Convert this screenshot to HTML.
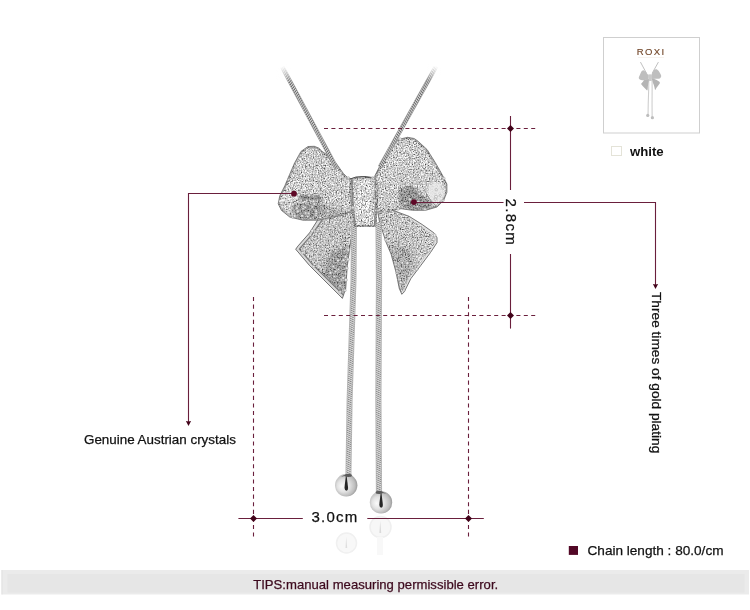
<!DOCTYPE html>
<html><head><meta charset="utf-8">
<style>
html,body{margin:0;padding:0;background:#fff;}
body{width:750px;height:610px;overflow:hidden;position:relative;font-family:"Liberation Sans",sans-serif;}
svg{position:absolute;left:0;top:0;will-change:transform;}
</style></head>
<body>
<svg width="750" height="610" viewBox="0 0 750 610">
<defs>
  <radialGradient id="ball" cx="0.45" cy="0.5" r="0.55" fx="0.3" fy="0.55">
    <stop offset="0" stop-color="#fafafa"/>
    <stop offset="0.5" stop-color="#e2e2e2"/>
    <stop offset="0.85" stop-color="#bdbdbd"/>
    <stop offset="1" stop-color="#9a9a9a"/>
  </radialGradient>
  <pattern id="chainPat" width="40" height="2.1" patternUnits="userSpaceOnUse" patternTransform="skewY(25)">
    <rect width="40" height="2.1" fill="#dcdcdc"/>
    <rect y="1.2" width="40" height="0.9" fill="#8a8a8a"/>
  </pattern>
  <pattern id="chainPatN" width="2.1" height="2" patternUnits="userSpaceOnUse" patternTransform="rotate(40)">
    <rect width="2.1" height="2" fill="#d8d8d8"/>
    <rect x="1.1" width="1" height="2" fill="#686868"/>
  </pattern>
  <pattern id="chainPatNR" width="2.1" height="2" patternUnits="userSpaceOnUse" patternTransform="rotate(-40)">
    <rect width="2.1" height="2" fill="#d8d8d8"/>
    <rect x="1.1" width="1" height="2" fill="#686868"/>
  </pattern>
  <filter id="sparkle" x="0" y="0" width="1" height="1" color-interpolation-filters="sRGB">
    <feTurbulence type="fractalNoise" baseFrequency="0.75" numOctaves="2" seed="4" result="n"/>
    <feColorMatrix in="n" type="matrix" values="1 0 0 0 0  1 0 0 0 0  1 0 0 0 0  0 0 0 0 1" result="g"/>
    <feComponentTransfer in="g" result="m">
      <feFuncR type="table" tableValues="0 0.05 0.15 0.38 0.6 0.76 0.9 0.98 1 1 1"/>
      <feFuncG type="table" tableValues="0 0.05 0.15 0.38 0.6 0.76 0.9 0.98 1 1 1"/>
      <feFuncB type="table" tableValues="0 0.05 0.15 0.38 0.6 0.76 0.9 0.98 1 1 1"/>
    </feComponentTransfer>
    <feComposite in="SourceGraphic" in2="m" operator="arithmetic" k1="0.95" k2="0.25" k3="0" k4="0" result="c"/>
    <feComposite in="c" in2="SourceAlpha" operator="in"/>
  </filter>
  <filter id="soft1" x="-0.2" y="-0.2" width="1.4" height="1.4"><feGaussianBlur stdDeviation="1.1"/></filter>
  <filter id="soft" x="-0.2" y="-0.2" width="1.4" height="1.4"><feGaussianBlur stdDeviation="2.5"/></filter>
  <clipPath id="cpLL"><path d="M352.5,179.3 L347.5,177.6 L343.4,173.5 L339.3,167.8 L335.2,162 L329,156 L322,151.4 L318.9,148.1 L314.3,146.3 L308,146.5 L301,151.4 L294.6,162.9 L289.7,174.3 L284.8,185.8 L279.8,195.7 L278.2,203.9 L281.5,210.4 L289.7,217 L302.8,220.2 L319.2,220.2 L332.3,217 L345,215 L352,210Z"/></clipPath>
  <clipPath id="cpRL"><path d="M374.8,175.9 L379,167.6 L385.5,156 L391.2,145.5 L396,141 L400.2,139 L407.6,137.3 L414.2,138.5 L418.3,141.4 L427.2,149.7 L435.4,162.8 L442,174.3 L446.9,184.1 L446.9,192.3 L443.6,200.5 L437,207 L425.6,210.3 L412.5,210.3 L401,208.7 L385,212 L376,212Z"/></clipPath>
  <clipPath id="cpLT"><path d="M357.1,214 L353.9,212 L334,213 L318,219.5 L309.6,232.8 L298.1,245.9 L295.7,249.2 L309.6,265.6 L326,282 L339.1,295 L342.4,298.4 L345.7,288.5 L347.3,265.6 L350.6,242.6 L353.9,227.9Z"/></clipPath>
  <clipPath id="cpRT"><path d="M376.4,204 L409.2,216.4 L422.3,224.6 L433.8,232.8 L437,237.7 L437,242.6 L430.5,252.5 L420.7,265.6 L410.8,278.7 L404.3,291.8 L401.8,294.3 L399.3,288.5 L396,272.1 L391.1,254.1 L386.2,242.6 L383,232.8 L379.7,223Z"/></clipPath>
  <clipPath id="cpKN"><path d="M349.5,182 L351,178.8 L355,177 L363.5,176.2 L372,177 L376.5,179 L378,183 L378.5,195 L377.5,210 L376,226.9 L354.5,226.9 L351.5,212 L349.5,197Z"/></clipPath>
  <linearGradient id="fadeL" x1="283" y1="66" x2="290" y2="82" gradientUnits="userSpaceOnUse">
    <stop offset="0" stop-color="#fff" stop-opacity="1"/>
    <stop offset="1" stop-color="#fff" stop-opacity="0"/>
  </linearGradient>
  <linearGradient id="fadeR" x1="436" y1="66" x2="430" y2="82" gradientUnits="userSpaceOnUse">
    <stop offset="0" stop-color="#fff" stop-opacity="1"/>
    <stop offset="1" stop-color="#fff" stop-opacity="0"/>
  </linearGradient>
</defs>
<g id="necklace">
  <g filter="url(#sparkle)">
    <path fill="#c8c8c8" d="M357.1,214 L353.9,212 L334,213 L318,219.5 L309.6,232.8 L298.1,245.9 L295.7,249.2 L309.6,265.6 L326,282 L339.1,295 L342.4,298.4 L345.7,288.5 L347.3,265.6 L350.6,242.6 L353.9,227.9Z"/>
    <path fill="#cccccc" d="M376.4,204 L409.2,216.4 L422.3,224.6 L433.8,232.8 L437,237.7 L437,242.6 L430.5,252.5 L420.7,265.6 L410.8,278.7 L404.3,291.8 L401.8,294.3 L399.3,288.5 L396,272.1 L391.1,254.1 L386.2,242.6 L383,232.8 L379.7,223Z"/>
    <g clip-path="url(#cpLT)" filter="url(#soft)">
      <path d="M330,252 L348,245 L346,292 L340,296 L322,278Z" fill="#a0a0a0"/>
      <path d="M296,249 L309,265 L326,282 L339,295 L337,299 L322,285 L305,268 L294,252Z" fill="#909090"/>
    </g>
    <g clip-path="url(#cpRT)" filter="url(#soft)">
      <path d="M388,244 L412,248 L414,268 L404,292 L398,288 L393,262Z" fill="#b0b0b0"/>
    </g>
  </g>
  <g fill="none">
    <g clip-path="url(#cpLT)"><path d="M320,218 L309.6,232.8 L298.1,245.9 L295.7,249.2 L309.6,265.6 L326,282 L339.1,295 L342.4,298.4" stroke="#7a7a7a" stroke-width="7"/><path d="M320,218 L309.6,232.8 L298.1,245.9 L295.7,249.2 L309.6,265.6 L326,282 L339.1,295 L342.4,298.4" stroke="#dadada" stroke-width="4.6"/></g>
    <g clip-path="url(#cpRT)"><path d="M409.2,216.4 L422.3,224.6 L433.8,232.8 L437,237.7 L437,242.6 L430.5,252.5 L420.7,265.6 L410.8,278.7 L404.3,291.8 L401.8,294.3" stroke="#e4e4e4" stroke-width="3.5"/></g>
    <path d="M357.1,214 L353.9,212 L334,213 L318,219.5 L309.6,232.8 L298.1,245.9 L295.7,249.2 L309.6,265.6 L326,282 L339.1,295 L342.4,298.4 L345.7,288.5 L347.3,265.6 L350.6,242.6 L353.9,227.9Z" stroke="#6a6a6a" stroke-width="0.9"/>
    <path d="M376.4,204 L409.2,216.4 L422.3,224.6 L433.8,232.8 L437,237.7 L437,242.6 L430.5,252.5 L420.7,265.6 L410.8,278.7 L404.3,291.8 L401.8,294.3 L399.3,288.5 L396,272.1 L391.1,254.1 L386.2,242.6 L383,232.8 L379.7,223Z" stroke="#6a6a6a" stroke-width="0.9"/>
  </g>

  <polyline points="354,222 353.5,280 349.6,400 348.4,476" fill="none" stroke="#b4b4b4" stroke-width="6"/>
  <polyline points="354,222 353.5,280 349.6,400 348.4,476" fill="none" stroke="url(#chainPat)" stroke-width="4.4"/>
  <polyline points="378.5,222 379,280 378.4,400 379,492.5" fill="none" stroke="#b4b4b4" stroke-width="6.2"/>
  <polyline points="378.5,222 379,280 378.4,400 379,492.5" fill="none" stroke="url(#chainPat)" stroke-width="4.6"/>
  <g filter="url(#sparkle)">
    <path fill="#d6d6d6" d="M352.5,179.3 L347.5,177.6 L343.4,173.5 L339.3,167.8 L335.2,162 L329,156 L322,151.4 L318.9,148.1 L314.3,146.3 L308,146.5 L301,151.4 L294.6,162.9 L289.7,174.3 L284.8,185.8 L279.8,195.7 L278.2,203.9 L281.5,210.4 L289.7,217 L302.8,220.2 L319.2,220.2 L332.3,217 L345,215 L352,210Z"/>
    <g clip-path="url(#cpLL)" filter="url(#soft1)">
      <path d="M292,204 L318,202 L328,206 L322,214 L316,219 L298,220 L292,212Z" fill="#9c9c9c"/>
      <path d="M299,194.5 L321,195 L322,200.5 L299,200Z" fill="#8c8c8c"/>
      <path d="M322,206 L345,210 L345,216 L330,218 L320,216Z" fill="#b4b4b4"/>
    </g>
    <path fill="#d6d6d6" d="M374.8,175.9 L379,167.6 L385.5,156 L391.2,145.5 L396,141 L400.2,139 L407.6,137.3 L414.2,138.5 L418.3,141.4 L427.2,149.7 L435.4,162.8 L442,174.3 L446.9,184.1 L446.9,192.3 L443.6,200.5 L437,207 L425.6,210.3 L412.5,210.3 L401,208.7 L385,212 L376,212Z"/>
    <g clip-path="url(#cpRL)" filter="url(#soft1)">
      <path d="M399,189 L411,185 L433,203 L429,211 L410,211 L399,205Z" fill="#9a9a9a"/>
    </g>
    <g clip-path="url(#cpLL)"><path d="M352.5,179.3 L347.5,177.6 L343.4,173.5 L339.3,167.8 L335.2,162 L329,156 L322,151.4 L318.9,148.1 L314.3,146.3 L308,146.5 L301,151.4 L294.6,162.9 L289.7,174.3 L284.8,185.8 L279.8,195.7 L278.2,203.9 L281.5,210.4 L289.7,217 L302.8,220.2 L319.2,220.2 L332.3,217 L345,215 L352,210Z" fill="none" stroke="#a8a8a8" stroke-width="3.5"/></g>
    <g clip-path="url(#cpRL)"><path d="M374.8,175.9 L379,167.6 L385.5,156 L391.2,145.5 L396,141 L400.2,139 L407.6,137.3 L414.2,138.5 L418.3,141.4 L427.2,149.7 L435.4,162.8 L442,174.3 L446.9,184.1 L446.9,192.3 L443.6,200.5 L437,207 L425.6,210.3 L412.5,210.3 L401,208.7 L385,212 L376,212Z" fill="none" stroke="#a8a8a8" stroke-width="3.5"/></g>
    <path fill="#dadada" d="M349.5,182 L351,178.8 L355,177 L363.5,176.2 L372,177 L376.5,179 L378,183 L378.5,195 L377.5,210 L376,226.9 L354.5,226.9 L351.5,212 L349.5,197Z"/>
    <g clip-path="url(#cpKN)"><path d="M349.5,182 L351,178.8 L355,177 L363.5,176.2 L372,177 L376.5,179 L378,183 L378.5,195 L377.5,210 L376,226.9 L354.5,226.9 L351.5,212 L349.5,197Z" fill="none" stroke="#a0a0a0" stroke-width="4"/><rect x="357" y="183" width="13.5" height="38" rx="6" fill="#e8e8e8"/></g>
  </g>
  <g fill="none">
    <g clip-path="url(#cpRL)"><path d="M425,188 Q433,181 441,183 Q446,188 444,197 Q440,204 434,205 Q429,198 425,188Z" fill="#e9e9e9" opacity="0.85" filter="url(#soft1)"/><path d="M424,189 Q430,201 436,206" stroke="#9a9a9a" stroke-width="1"/></g>
    <g clip-path="url(#cpLL)"><path d="M278,201.5 L290,199 L297.5,197" stroke="#f4f4f4" stroke-width="2.2"/><path d="M282,205 Q284,212 291,216.5" stroke="#bdbdbd" stroke-width="1.6"/></g>
    <path d="M352.5,179.3 L347.5,177.6 L343.4,173.5 L339.3,167.8 L335.2,162 L329,156 L322,151.4 L318.9,148.1 L314.3,146.3 L308,146.5 L301,151.4 L294.6,162.9 L289.7,174.3 L284.8,185.8 L279.8,195.7 L278.2,203.9 L281.5,210.4 L289.7,217 L302.8,220.2 L319.2,220.2 L332.3,217 L345,215 L352,210Z" stroke="#7a7a7a" stroke-width="0.9"/>
    <path d="M374.8,175.9 L379,167.6 L385.5,156 L391.2,145.5 L396,141 L400.2,139 L407.6,137.3 L414.2,138.5 L418.3,141.4 L427.2,149.7 L435.4,162.8 L442,174.3 L446.9,184.1 L446.9,192.3 L443.6,200.5 L437,207 L425.6,210.3 L412.5,210.3 L401,208.7 L385,212 L376,212Z" stroke="#7a7a7a" stroke-width="0.9"/>
    <path d="M350,179 L356,177 L364,176.5 L373,177.6 L377,180" stroke="#555" stroke-width="1"/>
    <path d="M351.5,181 Q353.5,204 355,226" stroke="#7a7a7a" stroke-width="0.9"/>
    <path d="M375.5,181 Q375.5,204 374.5,226" stroke="#7a7a7a" stroke-width="0.9"/>
  </g><g fill="#f4f4f4" stroke="#8a8a8a" stroke-width="0.55" opacity="0.8"><circle cx="331.7" cy="160.6" r="1.47"/><circle cx="368.2" cy="195.6" r="1.26"/><circle cx="282.4" cy="206.7" r="1.57"/><circle cx="297.3" cy="172.4" r="1.46"/><circle cx="375.3" cy="200.7" r="1.49"/><circle cx="423.7" cy="183.2" r="1.58"/><circle cx="300.8" cy="155.2" r="1.15"/><circle cx="329.1" cy="269.0" r="1.02"/><circle cx="385.9" cy="196.7" r="1.12"/><circle cx="393.0" cy="205.7" r="1.11"/><circle cx="330.0" cy="231.4" r="1.05"/><circle cx="353.9" cy="184.9" r="1.03"/><circle cx="412.6" cy="249.9" r="1.33"/><circle cx="318.0" cy="229.6" r="1.52"/><circle cx="401.5" cy="182.9" r="1.27"/><circle cx="347.9" cy="259.4" r="1.57"/><circle cx="302.1" cy="215.7" r="1.55"/><circle cx="407.5" cy="229.4" r="1.04"/><circle cx="426.6" cy="187.1" r="1.36"/><circle cx="395.6" cy="232.9" r="1.24"/><circle cx="375.7" cy="210.4" r="1.07"/><circle cx="417.4" cy="182.4" r="1.58"/><circle cx="342.4" cy="245.0" r="1.15"/><circle cx="304.9" cy="155.1" r="1.34"/><circle cx="298.2" cy="176.4" r="1.38"/><circle cx="343.2" cy="278.0" r="1.57"/><circle cx="289.9" cy="209.2" r="1.40"/><circle cx="323.9" cy="203.7" r="1.24"/><circle cx="337.7" cy="280.1" r="1.27"/><circle cx="306.3" cy="173.8" r="1.10"/><circle cx="316.1" cy="215.0" r="1.58"/><circle cx="377.3" cy="178.8" r="1.60"/><circle cx="339.5" cy="228.3" r="1.13"/><circle cx="392.3" cy="144.8" r="1.02"/><circle cx="343.5" cy="201.0" r="1.15"/><circle cx="311.9" cy="162.5" r="1.21"/><circle cx="293.5" cy="195.3" r="1.54"/><circle cx="319.4" cy="192.6" r="1.54"/><circle cx="334.9" cy="179.2" r="1.50"/><circle cx="418.6" cy="162.3" r="1.03"/><circle cx="424.5" cy="249.5" r="1.47"/><circle cx="320.9" cy="195.8" r="1.43"/><circle cx="332.7" cy="172.4" r="1.39"/><circle cx="416.8" cy="256.6" r="1.59"/><circle cx="320.6" cy="248.9" r="1.03"/><circle cx="440.3" cy="195.4" r="1.09"/><circle cx="313.9" cy="173.0" r="1.45"/><circle cx="309.8" cy="169.3" r="1.56"/><circle cx="333.2" cy="266.5" r="1.41"/><circle cx="443.1" cy="200.5" r="1.18"/><circle cx="345.0" cy="290.3" r="1.35"/><circle cx="400.7" cy="163.7" r="1.45"/><circle cx="297.9" cy="160.6" r="1.06"/><circle cx="336.3" cy="225.4" r="1.19"/><circle cx="418.1" cy="170.4" r="1.15"/><circle cx="319.3" cy="183.8" r="1.07"/><circle cx="317.4" cy="231.6" r="1.29"/><circle cx="320.6" cy="204.3" r="1.10"/><circle cx="336.9" cy="210.7" r="1.14"/><circle cx="362.3" cy="222.7" r="1.09"/><circle cx="305.6" cy="213.2" r="1.41"/><circle cx="400.7" cy="226.7" r="1.01"/><circle cx="332.1" cy="220.5" r="1.43"/><circle cx="318.7" cy="181.1" r="1.12"/><circle cx="408.8" cy="218.8" r="1.02"/><circle cx="438.1" cy="178.3" r="1.56"/><circle cx="420.5" cy="158.4" r="1.13"/><circle cx="296.9" cy="208.1" r="1.56"/><circle cx="302.6" cy="252.7" r="1.52"/><circle cx="389.6" cy="159.3" r="1.53"/><circle cx="344.5" cy="215.4" r="1.08"/><circle cx="303.8" cy="206.3" r="1.27"/><circle cx="364.7" cy="191.3" r="1.06"/><circle cx="309.7" cy="187.9" r="1.56"/><circle cx="400.2" cy="139.2" r="1.51"/><circle cx="371.3" cy="207.8" r="1.38"/><circle cx="294.0" cy="179.3" r="1.27"/><circle cx="322.5" cy="157.1" r="1.20"/><circle cx="416.9" cy="178.2" r="1.49"/><circle cx="394.4" cy="205.3" r="1.29"/><circle cx="354.0" cy="191.3" r="1.38"/><circle cx="322.1" cy="157.1" r="1.09"/><circle cx="329.7" cy="185.7" r="1.13"/><circle cx="406.6" cy="183.3" r="1.03"/><circle cx="402.1" cy="225.8" r="1.43"/><circle cx="308.6" cy="213.4" r="1.33"/><circle cx="416.9" cy="206.4" r="1.09"/><circle cx="343.6" cy="218.6" r="1.52"/><circle cx="334.9" cy="271.7" r="1.16"/><circle cx="397.6" cy="239.7" r="1.25"/><circle cx="345.6" cy="192.7" r="1.09"/><circle cx="320.0" cy="162.6" r="1.16"/><circle cx="425.7" cy="245.3" r="1.50"/><circle cx="324.5" cy="175.5" r="1.20"/><circle cx="326.4" cy="210.9" r="1.10"/><circle cx="303.1" cy="208.7" r="1.29"/><circle cx="329.2" cy="194.1" r="1.19"/><circle cx="357.6" cy="218.0" r="1.54"/><circle cx="310.6" cy="218.3" r="1.07"/><circle cx="291.4" cy="201.1" r="1.59"/><circle cx="328.3" cy="173.9" r="1.03"/><circle cx="405.1" cy="243.2" r="1.54"/><circle cx="399.2" cy="279.3" r="1.40"/><circle cx="343.0" cy="189.2" r="1.13"/><circle cx="400.6" cy="240.8" r="1.29"/><circle cx="429.4" cy="238.3" r="1.17"/><circle cx="402.2" cy="268.4" r="1.15"/><circle cx="414.4" cy="270.7" r="1.12"/><circle cx="393.5" cy="249.0" r="1.22"/><circle cx="298.9" cy="194.8" r="1.59"/><circle cx="413.2" cy="258.0" r="1.60"/><circle cx="362.5" cy="223.2" r="1.56"/><circle cx="402.7" cy="177.1" r="1.06"/><circle cx="288.8" cy="179.3" r="1.17"/><circle cx="401.4" cy="169.5" r="1.54"/><circle cx="361.0" cy="198.4" r="1.03"/><circle cx="407.9" cy="236.6" r="1.44"/><circle cx="301.4" cy="177.4" r="1.18"/><circle cx="403.8" cy="185.6" r="1.59"/><circle cx="391.6" cy="248.8" r="1.01"/><circle cx="392.2" cy="183.4" r="1.48"/><circle cx="364.8" cy="211.7" r="1.20"/><circle cx="429.7" cy="168.5" r="1.08"/><circle cx="353.3" cy="179.8" r="1.00"/><circle cx="312.2" cy="230.8" r="1.50"/><circle cx="428.5" cy="250.6" r="1.32"/><circle cx="353.5" cy="185.2" r="1.11"/><circle cx="300.2" cy="192.1" r="1.26"/><circle cx="330.4" cy="273.0" r="1.55"/><circle cx="420.3" cy="155.6" r="1.13"/><circle cx="431.1" cy="183.2" r="1.34"/><circle cx="340.0" cy="200.0" r="1.08"/><circle cx="338.0" cy="205.8" r="1.11"/><circle cx="318.9" cy="179.3" r="1.46"/><circle cx="340.2" cy="291.9" r="1.43"/><circle cx="399.8" cy="144.1" r="1.12"/><circle cx="405.5" cy="241.1" r="1.05"/><circle cx="357.2" cy="192.0" r="1.05"/><circle cx="327.2" cy="256.5" r="1.37"/><circle cx="443.9" cy="178.4" r="1.30"/><circle cx="388.8" cy="185.0" r="1.16"/><circle cx="371.9" cy="200.3" r="1.12"/><circle cx="304.8" cy="162.4" r="1.37"/><circle cx="309.1" cy="150.8" r="1.42"/><circle cx="317.1" cy="178.1" r="1.49"/><circle cx="404.9" cy="203.3" r="1.35"/><circle cx="347.2" cy="221.4" r="1.12"/><circle cx="340.8" cy="191.1" r="1.04"/><circle cx="424.4" cy="171.2" r="1.44"/><circle cx="322.6" cy="176.5" r="1.24"/><circle cx="344.8" cy="208.7" r="1.43"/><circle cx="343.3" cy="287.1" r="1.03"/><circle cx="387.0" cy="185.5" r="1.49"/><circle cx="298.0" cy="177.0" r="1.20"/><circle cx="327.9" cy="211.1" r="1.51"/><circle cx="316.4" cy="176.3" r="1.52"/><circle cx="348.2" cy="177.9" r="1.30"/><circle cx="334.1" cy="204.6" r="1.01"/><circle cx="393.4" cy="168.3" r="1.55"/><circle cx="413.1" cy="256.5" r="1.29"/><circle cx="442.8" cy="186.8" r="1.52"/><circle cx="417.0" cy="173.6" r="1.16"/><circle cx="314.1" cy="260.0" r="1.11"/><circle cx="314.4" cy="204.0" r="1.50"/><circle cx="301.2" cy="200.1" r="1.22"/><circle cx="286.3" cy="200.1" r="1.10"/><circle cx="436.2" cy="189.7" r="1.22"/><circle cx="404.4" cy="141.2" r="1.36"/><circle cx="390.3" cy="197.7" r="1.00"/><circle cx="340.3" cy="190.1" r="1.31"/><circle cx="324.1" cy="193.3" r="1.27"/><circle cx="337.3" cy="269.9" r="1.31"/><circle cx="417.4" cy="206.5" r="1.07"/><circle cx="340.1" cy="285.9" r="1.43"/><circle cx="309.2" cy="195.4" r="1.49"/><circle cx="346.7" cy="268.3" r="1.52"/><circle cx="407.9" cy="142.6" r="1.19"/><circle cx="434.3" cy="177.9" r="1.43"/><circle cx="404.5" cy="282.5" r="1.23"/><circle cx="334.3" cy="180.4" r="1.45"/><circle cx="321.1" cy="252.8" r="1.04"/><circle cx="330.4" cy="180.9" r="1.52"/><circle cx="433.6" cy="239.3" r="1.57"/><circle cx="316.2" cy="213.5" r="1.30"/><circle cx="342.5" cy="176.9" r="1.31"/><circle cx="435.6" cy="165.8" r="1.32"/><circle cx="414.0" cy="256.4" r="1.32"/><circle cx="417.5" cy="262.0" r="1.01"/><circle cx="380.4" cy="189.4" r="1.58"/><circle cx="331.0" cy="195.0" r="1.13"/><circle cx="410.5" cy="148.9" r="1.11"/><circle cx="309.9" cy="258.7" r="1.06"/><circle cx="292.6" cy="217.3" r="1.15"/><circle cx="398.1" cy="208.9" r="1.49"/><circle cx="316.3" cy="203.9" r="1.02"/><circle cx="404.7" cy="274.1" r="1.06"/><circle cx="390.3" cy="155.7" r="1.42"/><circle cx="420.6" cy="183.9" r="1.12"/><circle cx="373.5" cy="196.8" r="1.01"/><circle cx="402.9" cy="168.5" r="1.36"/><circle cx="318.6" cy="176.0" r="1.35"/><circle cx="375.5" cy="189.2" r="1.31"/><circle cx="415.1" cy="242.5" r="1.42"/><circle cx="296.5" cy="166.9" r="1.06"/><circle cx="436.0" cy="196.7" r="1.52"/><circle cx="425.0" cy="209.2" r="1.43"/><circle cx="320.7" cy="262.8" r="1.03"/><circle cx="313.4" cy="196.1" r="1.07"/><circle cx="300.3" cy="169.2" r="1.30"/><circle cx="319.8" cy="233.7" r="1.30"/><circle cx="388.1" cy="169.2" r="1.17"/><circle cx="392.7" cy="166.2" r="1.07"/><circle cx="329.7" cy="169.2" r="1.24"/><circle cx="412.8" cy="225.3" r="1.08"/><circle cx="344.0" cy="225.7" r="1.36"/><circle cx="304.2" cy="249.4" r="1.52"/><circle cx="346.5" cy="182.2" r="1.09"/><circle cx="329.7" cy="228.3" r="1.34"/><circle cx="337.4" cy="203.9" r="1.45"/><circle cx="338.6" cy="168.1" r="1.10"/><circle cx="401.2" cy="169.2" r="1.50"/><circle cx="345.9" cy="279.9" r="1.56"/><circle cx="339.8" cy="218.2" r="1.23"/><circle cx="301.1" cy="182.2" r="1.25"/><circle cx="294.7" cy="216.0" r="1.50"/><circle cx="309.9" cy="156.6" r="1.32"/><circle cx="435.3" cy="199.2" r="1.24"/><circle cx="431.5" cy="237.1" r="1.56"/><circle cx="417.8" cy="162.1" r="1.47"/><circle cx="411.2" cy="172.2" r="1.20"/><circle cx="345.6" cy="274.0" r="1.14"/><circle cx="418.6" cy="165.8" r="1.20"/><circle cx="313.5" cy="201.2" r="1.26"/><circle cx="365.1" cy="198.5" r="1.59"/><circle cx="297.2" cy="176.3" r="1.48"/><circle cx="400.7" cy="282.3" r="1.55"/><circle cx="406.3" cy="142.2" r="1.49"/><circle cx="420.2" cy="155.2" r="1.51"/><circle cx="383.9" cy="185.9" r="1.03"/><circle cx="348.3" cy="231.0" r="1.31"/><circle cx="352.8" cy="207.5" r="1.57"/><circle cx="407.3" cy="263.1" r="1.56"/><circle cx="298.1" cy="206.2" r="1.15"/><circle cx="291.8" cy="208.0" r="1.25"/><circle cx="402.2" cy="262.8" r="1.38"/><circle cx="362.7" cy="197.6" r="1.22"/><circle cx="401.9" cy="268.8" r="1.32"/><circle cx="433.6" cy="162.9" r="1.04"/><circle cx="287.3" cy="193.2" r="1.26"/><circle cx="406.1" cy="161.9" r="1.30"/><circle cx="430.2" cy="180.8" r="1.01"/><circle cx="416.3" cy="159.4" r="1.08"/><circle cx="311.8" cy="178.8" r="1.58"/><circle cx="363.0" cy="188.0" r="1.47"/><circle cx="385.4" cy="194.6" r="1.56"/><circle cx="384.3" cy="200.3" r="1.38"/><circle cx="413.2" cy="179.2" r="1.49"/><circle cx="338.0" cy="260.6" r="1.53"/><circle cx="403.9" cy="143.9" r="1.53"/><circle cx="417.0" cy="177.3" r="1.02"/><circle cx="382.0" cy="206.5" r="1.38"/><circle cx="298.7" cy="173.0" r="1.16"/><circle cx="294.3" cy="194.2" r="1.41"/><circle cx="314.6" cy="231.1" r="1.16"/><circle cx="383.3" cy="213.4" r="1.33"/><circle cx="317.9" cy="160.3" r="1.55"/><circle cx="345.1" cy="179.1" r="1.37"/><circle cx="372.7" cy="193.1" r="1.15"/><circle cx="387.0" cy="208.3" r="1.31"/><circle cx="310.3" cy="235.1" r="1.26"/><circle cx="415.9" cy="164.5" r="1.57"/><circle cx="329.2" cy="184.9" r="1.17"/><circle cx="410.7" cy="252.6" r="1.18"/><circle cx="314.9" cy="153.2" r="1.39"/><circle cx="333.7" cy="258.2" r="1.07"/><circle cx="398.4" cy="179.4" r="1.36"/><circle cx="371.3" cy="207.1" r="1.57"/><circle cx="411.6" cy="221.3" r="1.31"/><circle cx="321.6" cy="240.6" r="1.16"/><circle cx="320.8" cy="174.5" r="1.28"/><circle cx="403.9" cy="290.0" r="1.32"/><circle cx="404.3" cy="189.3" r="1.09"/><circle cx="427.4" cy="189.6" r="1.07"/><circle cx="374.1" cy="186.2" r="1.08"/><circle cx="312.5" cy="237.5" r="1.18"/><circle cx="395.1" cy="239.3" r="1.24"/><circle cx="395.9" cy="256.1" r="1.17"/><circle cx="338.5" cy="269.3" r="1.15"/><circle cx="294.4" cy="169.5" r="1.05"/><circle cx="384.6" cy="182.8" r="1.33"/><circle cx="406.3" cy="169.4" r="1.50"/><circle cx="330.9" cy="205.1" r="1.37"/><circle cx="324.6" cy="252.7" r="1.34"/><circle cx="339.3" cy="188.3" r="1.39"/><circle cx="422.4" cy="236.8" r="1.12"/><circle cx="281.3" cy="203.3" r="1.43"/><circle cx="335.6" cy="250.9" r="1.28"/><circle cx="424.3" cy="150.8" r="1.33"/><circle cx="417.0" cy="163.8" r="1.37"/><circle cx="307.7" cy="216.6" r="1.28"/><circle cx="335.7" cy="271.6" r="1.19"/><circle cx="324.8" cy="171.0" r="1.15"/><circle cx="396.3" cy="217.2" r="1.13"/><circle cx="395.9" cy="264.3" r="1.31"/><circle cx="384.0" cy="194.0" r="1.23"/><circle cx="345.0" cy="200.3" r="1.35"/><circle cx="311.5" cy="178.9" r="1.01"/><circle cx="341.2" cy="280.1" r="1.21"/><circle cx="316.2" cy="211.1" r="1.52"/><circle cx="405.5" cy="241.3" r="1.14"/><circle cx="335.9" cy="189.2" r="1.33"/><circle cx="305.2" cy="207.5" r="1.29"/><circle cx="409.0" cy="230.4" r="1.17"/><circle cx="297.7" cy="211.3" r="1.59"/><circle cx="428.2" cy="174.8" r="1.18"/><circle cx="309.0" cy="185.1" r="1.46"/><circle cx="396.9" cy="273.5" r="1.10"/><circle cx="302.6" cy="161.4" r="1.04"/><circle cx="318.6" cy="189.2" r="1.52"/><circle cx="332.4" cy="166.9" r="1.26"/><circle cx="293.5" cy="198.6" r="1.04"/><circle cx="402.1" cy="206.9" r="1.23"/><circle cx="309.7" cy="240.0" r="1.26"/><circle cx="294.4" cy="169.7" r="1.44"/><circle cx="344.6" cy="264.9" r="1.07"/><circle cx="395.3" cy="217.6" r="1.14"/><circle cx="384.8" cy="211.5" r="1.58"/><circle cx="345.6" cy="256.8" r="1.44"/><circle cx="432.2" cy="206.1" r="1.09"/><circle cx="400.2" cy="279.5" r="1.20"/><circle cx="409.1" cy="250.1" r="1.21"/><circle cx="422.6" cy="246.8" r="1.41"/><circle cx="386.3" cy="210.0" r="1.37"/><circle cx="329.8" cy="238.4" r="1.51"/><circle cx="292.8" cy="204.4" r="1.49"/><circle cx="410.6" cy="252.2" r="1.31"/><circle cx="384.3" cy="176.8" r="1.44"/><circle cx="348.9" cy="210.2" r="1.45"/><circle cx="382.9" cy="202.7" r="1.46"/><circle cx="307.5" cy="242.7" r="1.29"/><circle cx="409.8" cy="199.4" r="1.47"/><circle cx="312.1" cy="247.6" r="1.43"/><circle cx="343.5" cy="260.3" r="1.55"/><circle cx="323.2" cy="201.1" r="1.08"/><circle cx="348.3" cy="249.8" r="1.52"/><circle cx="336.6" cy="179.2" r="1.00"/><circle cx="314.6" cy="256.9" r="1.46"/><circle cx="313.7" cy="266.6" r="1.35"/><circle cx="415.2" cy="239.4" r="1.30"/><circle cx="336.7" cy="240.1" r="1.58"/><circle cx="416.8" cy="269.0" r="1.34"/><circle cx="356.5" cy="184.0" r="1.25"/><circle cx="419.4" cy="193.8" r="1.47"/><circle cx="422.3" cy="179.6" r="1.52"/><circle cx="340.7" cy="177.3" r="1.36"/><circle cx="324.4" cy="175.9" r="1.23"/><circle cx="327.9" cy="214.2" r="1.27"/><circle cx="389.4" cy="195.1" r="1.27"/><circle cx="388.8" cy="176.8" r="1.43"/><circle cx="316.2" cy="262.5" r="1.18"/><circle cx="411.5" cy="272.7" r="1.23"/><circle cx="309.9" cy="248.9" r="1.33"/><circle cx="371.5" cy="179.1" r="1.23"/><circle cx="316.3" cy="158.7" r="1.19"/><circle cx="360.5" cy="217.2" r="1.47"/><circle cx="340.5" cy="204.3" r="1.51"/><circle cx="385.6" cy="239.7" r="1.30"/><circle cx="363.8" cy="215.0" r="1.27"/><circle cx="399.5" cy="237.9" r="1.11"/><circle cx="334.2" cy="276.5" r="1.18"/><circle cx="339.0" cy="213.3" r="1.09"/><circle cx="312.2" cy="206.9" r="1.35"/><circle cx="348.7" cy="226.3" r="1.35"/><circle cx="418.2" cy="183.7" r="1.05"/><circle cx="418.4" cy="201.8" r="1.55"/><circle cx="362.6" cy="180.3" r="1.19"/><circle cx="332.9" cy="187.7" r="1.51"/><circle cx="327.5" cy="231.6" r="1.50"/><circle cx="434.5" cy="235.2" r="1.58"/><circle cx="432.5" cy="235.7" r="1.12"/><circle cx="395.8" cy="233.2" r="1.26"/><circle cx="393.1" cy="170.6" r="1.55"/><circle cx="390.7" cy="210.6" r="1.01"/><circle cx="407.2" cy="152.5" r="1.03"/><circle cx="388.8" cy="196.1" r="1.34"/><circle cx="417.5" cy="264.2" r="1.30"/><circle cx="372.7" cy="178.1" r="1.55"/><circle cx="328.0" cy="204.8" r="1.46"/><circle cx="330.8" cy="206.2" r="1.32"/><circle cx="415.4" cy="229.8" r="1.60"/><circle cx="386.9" cy="170.6" r="1.31"/><circle cx="399.7" cy="175.5" r="1.31"/><circle cx="402.2" cy="166.5" r="1.41"/><circle cx="398.7" cy="275.4" r="1.23"/><circle cx="401.5" cy="149.7" r="1.21"/><circle cx="416.6" cy="149.0" r="1.36"/><circle cx="329.5" cy="254.9" r="1.21"/><circle cx="339.2" cy="229.7" r="1.57"/><circle cx="338.5" cy="241.1" r="1.41"/><circle cx="384.3" cy="204.1" r="1.32"/><circle cx="342.3" cy="264.2" r="1.06"/><circle cx="373.5" cy="183.7" r="1.22"/><circle cx="397.0" cy="270.9" r="1.24"/><circle cx="333.1" cy="234.7" r="1.34"/><circle cx="379.4" cy="186.3" r="1.34"/><circle cx="340.8" cy="247.6" r="1.53"/><circle cx="414.9" cy="182.2" r="1.58"/><circle cx="348.7" cy="231.6" r="1.29"/><circle cx="374.4" cy="180.6" r="1.26"/><circle cx="310.5" cy="258.3" r="1.37"/><circle cx="436.3" cy="174.1" r="1.60"/><circle cx="319.8" cy="258.4" r="1.21"/><circle cx="408.8" cy="174.0" r="1.32"/><circle cx="308.5" cy="167.3" r="1.49"/><circle cx="307.1" cy="250.3" r="1.10"/><circle cx="338.4" cy="228.0" r="1.19"/><circle cx="345.2" cy="220.3" r="1.59"/><circle cx="411.4" cy="161.5" r="1.50"/><circle cx="378.7" cy="192.2" r="1.31"/><circle cx="373.6" cy="178.6" r="1.07"/></g>
  <circle cx="346.2" cy="485.3" r="11.2" fill="url(#ball)"/>
  <path d="M345.9,476 Q344.8,484 344.5,488 Q344.8,490.8 346.4,490.8 Q348.1,490.6 348.1,488 Q347.6,483 346.6,476Z" fill="#262626"/>
  <path d="M341,476.8 Q346.2,472.6 352,476.8 Q346.2,475.2 341,476.8Z" fill="#666"/><ellipse cx="348.3" cy="475.3" rx="3.6" ry="1.6" fill="#5a5a5a"/>
  <circle cx="381" cy="502.4" r="11.2" fill="url(#ball)"/>
  <path d="M380.7,493 Q379.6,501 379.3,505 Q379.6,507.8 381.2,507.8 Q382.9,507.6 382.9,505 Q382.4,500 381.4,493Z" fill="#262626"/>
  <path d="M375.8,493.8 Q381,489.7 386.2,493.8 Q381,492.2 375.8,493.8Z" fill="#666"/><ellipse cx="379.2" cy="492.3" rx="3.6" ry="1.6" fill="#5a5a5a"/>
  <circle cx="346.5" cy="543" r="10" fill="#f8f8f8" stroke="#f0f0f0" stroke-width="1.5"/>
  <path d="M346.2,537 L345.5,548 L347.2,548Z" fill="#dedede"/>
  <circle cx="380.5" cy="527" r="10.5" fill="#f7f7f7" stroke="#efefef" stroke-width="1.5"/>
  <path d="M380.2,521 L379.4,533 L381.2,533Z" fill="#dadada"/>
  <rect x="377" y="537" width="6" height="18" fill="#f8f8f8"/>
  <line x1="281.7" y1="66" x2="337" y2="169" stroke="#999" stroke-width="4.6"/>
  <line x1="281.7" y1="66" x2="337" y2="169" stroke="url(#chainPatN)" stroke-width="3.4"/>
  <line x1="436.3" y1="66" x2="380" y2="167" stroke="#999" stroke-width="4.6"/>
  <line x1="436.3" y1="66" x2="380" y2="167" stroke="url(#chainPatNR)" stroke-width="3.4"/>
  <path d="M276 60 L292 60 L292 82 L276 82Z" fill="url(#fadeL)"/>
  <path d="M426 60 L442 60 L442 82 L426 82Z" fill="url(#fadeR)"/>
</g>
<rect x="1.5" y="570" width="747.5" height="24.5" fill="#ebebeb"/>
<rect x="7.5" y="574" width="737" height="18.5" fill="#e6e6e6"/>
<rect x="1.5" y="570" width="1" height="24.5" fill="#e2e2e2"/>
<g stroke="#6a1f3c" stroke-width="1.1" fill="none">
  <line x1="324" y1="128.5" x2="535.5" y2="128.5" stroke-dasharray="4 3.4"/>
  <line x1="324" y1="315.5" x2="535.5" y2="315.5" stroke-dasharray="4 3.4"/>
  <line x1="510.5" y1="116" x2="510.5" y2="190"/>
  <line x1="510.5" y1="254" x2="510.5" y2="328.6"/>
  <line x1="253.5" y1="297" x2="253.5" y2="536.5" stroke-dasharray="4.1 3.5"/>
  <line x1="468.5" y1="297" x2="468.5" y2="536.5" stroke-dasharray="4.1 3.5"/>
  <line x1="238.4" y1="518.5" x2="302.8" y2="518.5"/>
  <line x1="367.3" y1="518.5" x2="483.8" y2="518.5"/>
  <polyline points="293.5,193.5 188.5,193.5 188.5,422"/>
  <line x1="413.7" y1="202.5" x2="503.5" y2="202.5"/>
  <polyline points="524,202.5 655.5,202.5 655.5,285"/>
</g>
<g fill="#42031a">
  <path d="M510.5 125 L514 128.5 L510.5 132 L507 128.5Z"/>
  <path d="M510.5 312 L514 315.5 L510.5 319 L507 315.5Z"/>
  <path d="M253.5 515 L257 518.5 L253.5 522 L250 518.5Z"/>
  <path d="M468.5 515 L472 518.5 L468.5 522 L465 518.5Z"/>
  <circle cx="294" cy="193.7" r="2.9" fill="#5e0826"/>
  <circle cx="413.9" cy="202.1" r="2.9" fill="#5e0826"/>
  <path d="M185.9 420.9 L188.5 421.4 L191.1 420.9 L188.5 426Z"/>
  <path d="M652.9 284 L655.5 284.5 L658.1 284 L655.5 289Z"/>
</g>
<g font-family="Liberation Sans" fill="#111" stroke="#111" stroke-width="0.25">
  <text x="84" y="443.5" font-size="13.4">Genuine Austrian crystals</text>
  <text transform="translate(652,292) rotate(90)" font-size="13.7">Three times of gold plating</text>
  <text x="311.5" y="522.3" font-size="15" letter-spacing="1.2">3.0cm</text>
  <text transform="translate(505.8,198.5) rotate(90)" font-size="15" letter-spacing="1.35">2.8cm</text>
  <text x="587.5" y="555" font-size="13.6">Chain length : 80.0/cm</text>
  <text x="630" y="155.6" font-size="13.2" font-weight="bold" stroke-width="0">white</text>
  <text x="253.2" y="588.7" font-size="13.6" fill="#3d0a1e" stroke="#3d0a1e" textLength="245" lengthAdjust="spacingAndGlyphs">TIPS:manual measuring permissible error.</text>
</g>
<rect x="568.8" y="546" width="9.2" height="8.9" fill="#520826"/>
<rect x="603.5" y="37.5" width="96" height="95.5" fill="#fff" stroke="#cfcfcf" stroke-width="1"/>
<text x="636.8" y="54.9" font-family="Liberation Sans" font-size="9.5" letter-spacing="1.35" fill="#6a4228" stroke="#8a5a36" stroke-width="0.15">ROXI</text>
<rect x="638" y="57" width="26" height="0.8" fill="#f6f1ec"/>
<g transform="translate(650,77.5) scale(0.133) translate(-363,-200)">
  <line x1="291.3" y1="84" x2="337" y2="169" stroke="#a0a0a0" stroke-width="5"/>
  <line x1="426.3" y1="84" x2="380" y2="167" stroke="#a0a0a0" stroke-width="5"/>
  <polyline points="354,222 353.5,280 349.6,400 348.4,476" fill="none" stroke="#cdcdcd" stroke-width="8"/>
  <polyline points="378.5,222 379,280 378.4,400 379,492.5" fill="none" stroke="#cdcdcd" stroke-width="8"/>
  <circle cx="346.2" cy="485.3" r="12" fill="#bdbdbd"/>
  <circle cx="381" cy="502.4" r="12" fill="#bdbdbd"/>
  <path d="M357.1,214 L353.9,212 L334,213 L318,219.5 L309.6,232.8 L298.1,245.9 L295.7,249.2 L309.6,265.6 L326,282 L339.1,295 L342.4,298.4 L345.7,288.5 L347.3,265.6 L350.6,242.6 L353.9,227.9Z" fill="#b4b4b4"/>
  <path d="M376.4,204 L409.2,216.4 L422.3,224.6 L433.8,232.8 L437,237.7 L437,242.6 L430.5,252.5 L420.7,265.6 L410.8,278.7 L404.3,291.8 L401.8,294.3 L399.3,288.5 L396,272.1 L391.1,254.1 L386.2,242.6 L383,232.8 L379.7,223Z" fill="#b4b4b4"/>
  <path d="M352.5,179.3 L347.5,177.6 L343.4,173.5 L339.3,167.8 L335.2,162 L329,156 L322,151.4 L318.9,148.1 L314.3,146.3 L308,146.5 L301,151.4 L294.6,162.9 L289.7,174.3 L284.8,185.8 L279.8,195.7 L278.2,203.9 L281.5,210.4 L289.7,217 L302.8,220.2 L319.2,220.2 L332.3,217 L345,215 L352,210Z" fill="#bebebe"/>
  <path d="M374.8,175.9 L379,167.6 L385.5,156 L391.2,145.5 L396,141 L400.2,139 L407.6,137.3 L414.2,138.5 L418.3,141.4 L427.2,149.7 L435.4,162.8 L442,174.3 L446.9,184.1 L446.9,192.3 L443.6,200.5 L437,207 L425.6,210.3 L412.5,210.3 L401,208.7 L385,212 L376,212Z" fill="#bebebe"/>
  <path d="M349.5,182 L351,178.8 L355,177 L363.5,176.2 L372,177 L376.5,179 L378,183 L378.5,195 L377.5,210 L376,226.9 L354.5,226.9 L351.5,212 L349.5,197Z" fill="#cacaca"/>
</g>
<rect x="611.5" y="146.5" width="10" height="9" fill="#fff" stroke="#e4e3d8" stroke-width="1"/>
</svg>
</body></html>
